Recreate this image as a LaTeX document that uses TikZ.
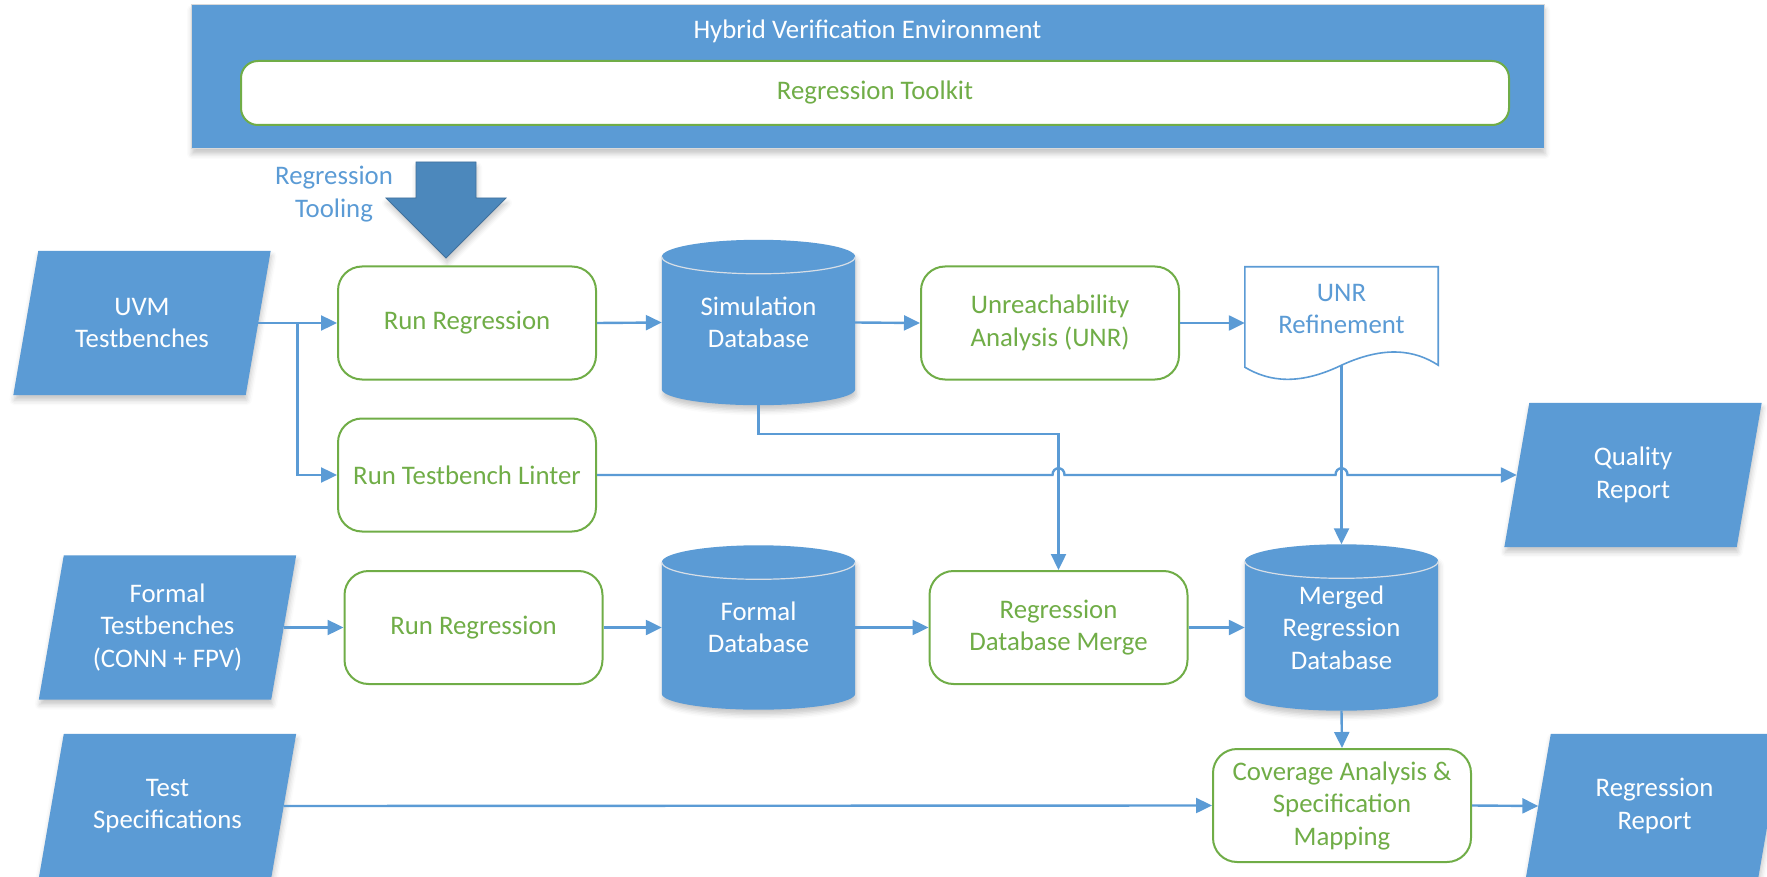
\documentclass[tikz,border=0pt]{standalone}
\usepackage{fontspec}
\setmainfont{Carlito}
\usetikzlibrary{arrows.meta,calc,shadows.blur}
\pgfdeclarelayer{bg}
\pgfsetlayers{bg,main}
\definecolor{flowblue}{HTML}{5B9BD5}
\definecolor{flowgreen}{HTML}{70AD47}
\definecolor{arrowblue}{RGB}{76,136,188}
\definecolor{arrowedge}{RGB}{65,113,156}
\definecolor{rimgray}{RGB}{215,222,230}
\newcommand\figfont{\fontsize{26.8pt}{32.5pt}\selectfont}
\tikzset{
  softshadow/.style={blur shadow={shadow xshift=1pt, shadow yshift=-5pt, shadow blur radius=5pt, shadow opacity=22}},
  procbox/.style={draw=flowgreen, line width=2pt, fill=white, rounded corners=24pt,
    minimum width=258pt, minimum height=113pt, text=flowgreen, align=center, inner sep=0pt},
  ionode/.style={minimum width=232pt, minimum height=144pt, text=white, align=center, inner sep=0pt},
  dbnode/.style={minimum width=193pt, text=white, align=center, inner sep=0pt},
  conn/.style={draw=flowblue, line width=2.4pt, -{Triangle[length=16pt,width=15pt]}},
}
% parallelogram (data) shape behind a node
\newcommand\ioshape[1]{%
  \begin{pgfonlayer}{bg}
  \fill[flowblue, softshadow] ($(#1.north west)+(12.5,0)$) -- ($(#1.north east)+(12.5,0)$)
    -- ($(#1.south east)+(-12.5,0)$) -- ($(#1.south west)+(-12.5,0)$) -- cycle;
  \end{pgfonlayer}}
% database cylinder behind a node
\newcommand\dbshape[1]{%
  \begin{pgfonlayer}{bg}
  \fill[flowblue, softshadow] let \p1=(#1.north west), \p2=(#1.south east), \n1={(\x2-\x1)/2} in
    (\x1,\y1-17pt) arc[start angle=180, end angle=0, x radius=\n1, y radius=17pt]
    -- (\x2,\y2+16pt) arc[start angle=0, end angle=-180, x radius=\n1, y radius=16pt] -- cycle;
  \draw[rimgray, line width=1.2pt] let \p1=(#1.north west), \p2=(#1.south east), \n1={(\x2-\x1)/2} in
    (\x1,\y1-17pt) arc[start angle=180, end angle=360, x radius=\n1, y radius=17pt];
  \end{pgfonlayer}}

\begin{document}
\begin{tikzpicture}[x=1pt, y=-1pt, every node/.style={font=\figfont}]
\useasboundingbox (0,0) rectangle (1767,877);

% environment banner
\node[fill=flowblue, draw=gray!30, line width=1pt, minimum width=1353pt, minimum height=144pt,
  inner sep=0pt, softshadow] (env) at (867.5,77) {};
\node[text=white] (envtitle) at (867.5,31) {Hybrid Verification Environment};
\node[draw=flowgreen, line width=2pt, fill=white, rounded corners=17pt, minimum width=1268pt,
  minimum height=64pt, text=flowgreen, inner sep=0pt] (toolkit) at (875,93) {Regression Toolkit};

% tooling block arrow
\filldraw[fill=arrowblue, draw=arrowedge, line width=0.8pt, softshadow]
  (416,162) -- (476,162) -- (476,198) -- (506,198) -- (446,258) -- (386,198) -- (416,198) -- cycle;
\node[text=flowblue, align=center] (tooling) at (334,194) {Regression\\Tooling};

% inputs and reports
\node[ionode] (uvm) at (142,323) {UVM\\Testbenches};
\node[ionode] (formal) at (167.5,627.5) {Formal\\Testbenches\\(CONN + FPV)};
\node[ionode] (tspec) at (167.5,806) {Test\\Specifications};
\node[ionode] (quality) at (1633,475) {Quality\\Report};
\node[ionode] (rreport) at (1654.5,806) {Regression\\Report};
\ioshape{uvm}\ioshape{formal}\ioshape{tspec}\ioshape{quality}\ioshape{rreport}

% process steps
\node[procbox] (run1) at (467,323) {Run Regression};
\node[procbox] (lint) at (467,475) {Run Testbench Linter};
\node[procbox] (run2) at (473.5,627.5) {Run Regression};
\node[procbox] (unr) at (1050,323) {Unreachability\\Analysis (UNR)};
\node[procbox] (merge) at (1058.5,627.5) {Regression\\Database Merge};
\node[procbox] (cov) at (1342,805.5) {Coverage Analysis \&\\Specification\\Mapping};

% databases
\node[dbnode, minimum height=165pt] (sim) at (758.5,322.5) {Simulation\\Database};
\node[dbnode, minimum height=164pt] (fdb) at (758.5,627.5) {Formal\\Database};
\node[dbnode, minimum height=166pt] (merged) at (1341.5,627.5) {Merged\\Regression\\Database};
\dbshape{sim}\dbshape{fdb}\dbshape{merged}

% refinement document
\node[minimum width=193pt, minimum height=98pt, inner sep=0pt,
  label={[text=flowblue, align=center, font=\figfont, yshift=7pt]center:{UNR\\Refinement}}] (doc) at (1341.5,316) {};
\begin{pgfonlayer}{bg}
\filldraw[fill=white, draw=flowblue, line width=1.6pt]
  (doc.north west) -- (doc.north east) -- (doc.south east)
  .. controls ($(doc.south east)+(-23,-15)$) and ($(doc.south)+(43.5,-20)$) .. (doc.south)
  .. controls ($(doc.south)+(-41.5,20)$) and ($(doc.south west)+(25,17)$) .. ($(doc.south west)+(0,2)$)
  -- cycle;
\end{pgfonlayer}

% connectors
\coordinate (split) at ($(uvm.east)!0.5!(run1.west)$);
\coordinate (simturn) at (1058.5,434);
\draw[conn] (uvm.east) -- (run1.west);
\draw[conn] (split) |- (lint.west);
\draw[conn] (run1.east) -- (sim.west);
\draw[conn] (sim.east) -- (unr.west);
\draw[conn] (unr.east) -- (unr.east -| doc.west);
\draw[conn] (sim.south) |- (simturn) -- (merge.north);
\draw[conn] (doc.south) -- (merged.north);
\draw[conn] (lint.east)
  -- ($(lint.east -| merge.north)+(-6,0)$) .. controls +(0,-9) and +(0,-9) .. ($(lint.east -| merge.north)+(6,0)$)
  -- ($(lint.east -| doc.south)+(-6,0)$) .. controls +(0,-9) and +(0,-9) .. ($(lint.east -| doc.south)+(6,0)$)
  -- (quality.west);
\draw[conn] (formal.east) -- (run2.west);
\draw[conn] (run2.east) -- (fdb.west);
\draw[conn] (fdb.east) -- (merge.west);
\draw[conn] (merge.east) -- (merged.west);
\draw[conn] (merged.south) -- (cov.north);
\draw[conn] (tspec.east) -- (cov.west);
\draw[conn] (cov.east) -- (rreport.west);
\end{tikzpicture}
\end{document}
